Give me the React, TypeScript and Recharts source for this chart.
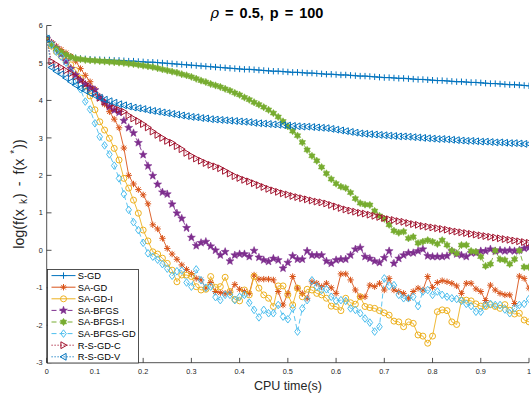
import React from 'react';
import { LineChart, Line, XAxis, YAxis, Legend, Customized } from 'recharts';

const T = [0,0.01,0.02,0.03,0.04,0.05,0.06,0.07,0.08,0.09,
0.1,0.11,0.12,0.13,0.14,0.15,0.16,0.17,0.18,0.19,
0.2,0.21,0.22,0.23,0.24,0.25,0.26,0.27,0.28,0.29,
0.3,0.31,0.32,0.33,0.34,0.35,0.36,0.37,0.38,0.39,
0.4,0.41,0.42,0.43,0.44,0.45,0.46,0.47,0.48,0.49,
0.5,0.51,0.52,0.53,0.54,0.55,0.56,0.57,0.58,0.59,
0.6,0.61,0.62,0.63,0.64,0.65,0.66,0.67,0.68,0.69,
0.7,0.71,0.72,0.73,0.74,0.75,0.76,0.77,0.78,0.79,
0.8,0.81,0.82,0.83,0.84,0.85,0.86,0.87,0.88,0.89,
0.9,0.91,0.92,0.93,0.94,0.95,0.96,0.97,0.98,0.99,
1.0];

const S_GD = [5.65,5.45,5.33,5.25,5.2,5.16,5.14,5.12,5.11,5.1,
5.09,5.09,5.08,5.08,5.07,5.07,5.06,5.05,5.05,5.04,
5.03,5.02,5.02,5.01,5.0,4.99,4.98,4.97,4.96,4.95,
4.94,4.93,4.92,4.91,4.9,4.89,4.88,4.87,4.86,4.85,
4.84,4.83,4.83,4.82,4.81,4.8,4.79,4.78,4.78,4.77,
4.76,4.75,4.75,4.74,4.73,4.73,4.72,4.71,4.7,4.7,
4.69,4.68,4.68,4.67,4.66,4.65,4.65,4.64,4.63,4.62,
4.61,4.61,4.6,4.59,4.59,4.58,4.57,4.56,4.56,4.55,
4.54,4.53,4.53,4.52,4.51,4.5,4.5,4.49,4.48,4.48,
4.47,4.46,4.45,4.45,4.44,4.43,4.42,4.42,4.41,4.4,
4.39];

const SA_GD = [5.65,5.55,5.45,5.36,5.27,5.18,5.05,4.85,4.67,4.5,
4.3,4.1,3.9,3.7,3.5,3.27,2.73,2.0,1.77,1.62,
1.48,1.24,0.68,0.57,0.32,0.05,-0.1,-0.24,-0.39,-0.51,
-0.62,-0.75,-0.79,-1.01,-0.86,-1.1,-1.13,-1.15,-1.13,-0.91,
-1.04,-1.1,-1.15,-0.66,-0.77,-0.77,-0.77,-0.79,-1.1,-1.46,
-1.15,-0.7,-1.01,-1.15,-1.28,-0.84,-0.88,-0.97,-0.88,-1.0,
-1.15,-0.63,-0.63,-0.79,-1.06,-1.24,-1.24,-0.93,-0.97,-0.88,
-1.06,-0.75,-1.06,-1.1,-1.15,-1.28,-1.1,-1.01,-1.06,-0.7,
-0.99,-0.86,-0.81,-0.84,-0.88,-0.95,-1.15,-0.88,-0.88,-1.03,
-1.1,-1.34,-0.93,-1.06,-1.15,-1.19,-1.19,-1.42,-0.69,-0.75,
-1.01];

const SA_GD_I = [5.65,5.45,5.3,5.18,5.06,4.95,4.8,4.6,4.38,4.12,
3.75,3.43,3.21,2.99,2.72,2.41,1.92,1.66,1.34,0.99,
0.54,0.25,-0.04,-0.1,-0.21,-0.35,-0.53,-0.84,-0.66,-0.66,
-0.7,-0.97,-1.06,-1.04,-0.7,-0.99,-0.97,-0.72,-1.1,-1.31,
-1.35,-1.06,-1.19,-0.7,-1.01,-1.19,-1.28,-1.5,-0.95,-0.95,
-1.19,-1.46,-1.01,-1.24,-1.04,-1.06,-1.15,-1.19,-1.28,-1.49,
-1.5,-1.61,-1.28,-1.4,-1.44,-1.24,-1.5,-1.53,-1.55,-1.61,
-1.67,-1.73,-1.89,-1.91,-2.04,-1.91,-1.95,-2.26,-2.29,-2.48,
-2.29,-1.64,-1.59,-1.61,-1.91,-1.98,-1.33,-1.33,-1.35,-1.43,
-1.49,-1.5,-1.45,-1.5,-1.55,-1.45,-1.6,-1.7,-1.68,-1.86,
-1.91];

const SA_BFGS = [5.65,5.53,5.4,5.24,5.05,4.85,4.68,4.54,4.43,4.35,
4.28,4.08,3.95,3.83,3.74,3.68,3.46,3.27,3.13,2.87,
2.55,2.25,1.99,1.76,1.55,1.5,1.23,0.99,0.85,0.6,
0.34,0.12,0.2,0.23,0.11,0.0,-0.13,-0.04,-0.29,-0.13,
-0.1,-0.1,-0.17,-0.01,-0.19,-0.26,-0.3,-0.22,-0.26,-0.48,
-0.33,-0.15,-0.24,-0.24,-0.02,-0.13,-0.13,-0.13,-0.29,-0.35,
-0.26,-0.24,-0.24,-0.13,0.03,0.07,-0.17,-0.22,-0.29,-0.33,
-0.2,-0.02,-0.35,-0.22,-0.13,-0.07,-0.07,-0.02,0.03,-0.15,
-0.17,-0.17,-0.17,-0.15,-0.02,-0.1,-0.13,-0.17,-0.07,-0.07,
-0.02,-0.02,0.03,-0.02,0.0,-0.02,0.0,-0.02,0.0,0.05,
0.07];

const SA_BFGS_I = [5.65,5.5,5.38,5.29,5.22,5.16,5.12,5.1,5.08,5.07,
5.06,5.05,5.04,5.03,5.02,5.01,5.0,4.98,4.97,4.95,
4.93,4.91,4.89,4.86,4.83,4.8,4.77,4.74,4.7,4.67,
4.63,4.58,4.53,4.49,4.44,4.4,4.36,4.31,4.26,4.2,
4.15,4.08,4.02,3.95,3.89,3.82,3.75,3.66,3.56,3.44,
3.31,3.18,3.06,2.88,2.68,2.52,2.39,2.22,2.05,1.9,
1.78,1.7,1.66,1.54,1.38,1.26,1.22,1.21,1.05,0.92,
0.84,0.68,0.52,0.47,0.5,0.32,0.36,0.19,0.23,0.27,
0.23,0.17,0.27,0.14,-0.01,-0.08,0.14,0.14,-0.02,-0.04,
-0.17,-0.42,-0.37,-0.01,-0.24,-0.26,-0.37,-0.24,-0.01,-0.45,
-0.45];

const SA_BFGS_GD = [5.65,5.48,5.3,5.17,5.01,4.78,4.52,4.3,3.97,3.76,
3.39,3.03,2.8,2.56,2.26,1.92,1.5,1.08,0.75,0.54,
0.2,-0.08,-0.17,-0.25,-0.37,-0.49,-0.68,-0.56,-0.54,-0.86,
-0.97,-0.51,-0.8,-1.0,-0.97,-1.25,-1.33,-1.19,-1.19,-1.33,
-1.24,-1.19,-1.4,-1.59,-1.79,-1.59,-1.68,-1.68,-1.46,-1.77,
-1.84,-1.55,-2.17,-1.55,-1.33,-0.8,-0.97,-1.06,-1.04,-1.24,
-1.35,-1.33,-1.35,-1.55,-1.59,-1.68,-1.82,-1.93,-2.17,-2.04,
-0.75,-0.95,-0.93,-1.19,-1.28,-1.28,-1.24,-1.49,-1.1,-1.06,
-1.19,-1.1,-1.19,-1.24,-1.28,-1.3,-1.35,-1.43,-1.49,-1.64,
-1.64,-1.46,-1.43,-1.46,-1.46,-1.58,-1.68,-1.55,-1.46,-1.43,
-1.3];

const R_S_GD_C = [5.65,5.04,4.96,4.88,4.8,4.72,4.63,4.54,4.44,4.33,
4.2,4.07,3.97,3.88,3.8,3.75,3.7,3.6,3.52,3.45,
3.37,3.28,3.17,3.08,3.0,2.92,2.87,2.78,2.7,2.6,
2.52,2.45,2.39,2.33,2.28,2.24,2.19,2.12,2.05,1.98,
1.93,1.88,1.84,1.79,1.74,1.69,1.64,1.6,1.56,1.52,
1.49,1.45,1.42,1.39,1.36,1.33,1.3,1.28,1.25,1.21,
1.17,1.13,1.09,1.06,1.03,1.0,0.98,0.95,0.92,0.89,
0.86,0.83,0.81,0.78,0.76,0.73,0.7,0.68,0.65,0.63,
0.61,0.59,0.57,0.55,0.52,0.5,0.48,0.46,0.44,0.42,
0.4,0.38,0.36,0.34,0.32,0.3,0.28,0.26,0.24,0.22,
0.2];

const R_S_GD_V = [5.65,4.88,4.78,4.7,4.6,4.5,4.41,4.33,4.26,4.19,
4.13,4.07,4.02,3.98,3.94,3.9,3.87,3.84,3.81,3.79,
3.77,3.74,3.72,3.7,3.68,3.66,3.64,3.62,3.6,3.58,
3.56,3.55,3.53,3.52,3.5,3.49,3.48,3.47,3.46,3.45,
3.44,3.43,3.42,3.4,3.39,3.38,3.37,3.36,3.35,3.34,
3.33,3.32,3.31,3.3,3.3,3.29,3.28,3.27,3.26,3.24,
3.22,3.2,3.18,3.16,3.14,3.12,3.11,3.1,3.09,3.08,
3.07,3.06,3.05,3.04,3.04,3.03,3.02,3.01,3.0,2.99,
2.98,2.97,2.97,2.96,2.95,2.94,2.93,2.92,2.92,2.91,
2.9,2.9,2.89,2.88,2.88,2.87,2.86,2.86,2.85,2.84,
2.84];

const X_TICKS = [0, 0.1, 0.2, 0.3, 0.4, 0.5, 0.6, 0.7, 0.8, 0.9, 1];
const Y_TICKS = [-3, -2, -1, 0, 1, 2, 3, 4, 5, 6];

const TITLE_SYMBOL = 'ρ';
const TITLE_REST = ' = 0.5, p = 100';
const X_LABEL = 'CPU time(s)';

type MarkerKind = 'plus' | 'asterisk' | 'circle' | 'pentagram' | 'hexagram' | 'diamond' | 'tright' | 'tleft';

const SERIES: { key: string; name: string; values: number[]; color: string; dash?: string; marker: MarkerKind }[] = [
  { key: 'sgd', name: 'S-GD', values: S_GD, color: '#0072BD', marker: 'plus' },
  { key: 'sagd', name: 'SA-GD', values: SA_GD, color: '#D95319', marker: 'asterisk' },
  { key: 'sagdi', name: 'SA-GD-I', values: SA_GD_I, color: '#EDB120', marker: 'circle' },
  { key: 'sabfgs', name: 'SA-BFGS', values: SA_BFGS, color: '#7E2F8E', dash: '5 3', marker: 'pentagram' },
  { key: 'sabfgsi', name: 'SA-BFGS-I', values: SA_BFGS_I, color: '#77AC30', dash: '5 3', marker: 'hexagram' },
  { key: 'sabfgsgd', name: 'SA-BFGS-GD', values: SA_BFGS_GD, color: '#4DBEEE', dash: '5 3', marker: 'diamond' },
  { key: 'rsgdc', name: 'R-S-GD-C', values: R_S_GD_C, color: '#A2142F', dash: '1.2 1.8', marker: 'tright' },
  { key: 'rsgdv', name: 'R-S-GD-V', values: R_S_GD_V, color: '#0072BD', dash: '1.2 1.8', marker: 'tleft' },
];

const data = T.map((t, i) => {
  const row: Record<string, number> = { t };
  SERIES.forEach((s) => { row[s.key] = s.values[i]; });
  return row;
});

const AXIS = '#262626';
const FONT = "'Liberation Sans', Arial, Helvetica, sans-serif";

function starPath(x: number, y: number, n: number, ro: number, ri: number) {
  let d = '';
  for (let k = 0; k < 2 * n; k++) {
    const r = k % 2 === 0 ? ro : ri;
    const a = -Math.PI / 2 + (k * Math.PI) / n;
    d += (k === 0 ? 'M' : 'L') + (x + r * Math.cos(a)).toFixed(2) + ',' + (y + r * Math.sin(a)).toFixed(2);
  }
  return d + 'Z';
}

function Marker({ kind, x, y, color }: { kind: MarkerKind; x: number; y: number; color: string }) {
  const r = 3.2;
  switch (kind) {
    case 'plus':
      return <path d={`M${x - r},${y}H${x + r}M${x},${y - r}V${y + r}`} stroke={color} strokeWidth={1} fill="none" />;
    case 'asterisk': {
      const a = r * 0.72;
      return (
        <path
          d={`M${x - r},${y}H${x + r}M${x},${y - r}V${y + r}M${x - a},${y - a}L${x + a},${y + a}M${x - a},${y + a}L${x + a},${y - a}`}
          stroke={color}
          strokeWidth={1}
          fill="none"
        />
      );
    }
    case 'circle':
      return <circle cx={x} cy={y} r={3} fill="none" stroke={color} strokeWidth={1} />;
    case 'pentagram':
      return <path d={starPath(x, y, 5, 4.2, 1.8)} fill={color} stroke={color} strokeWidth={0.5} />;
    case 'hexagram':
      return <path d={starPath(x, y, 6, 3.7, 2.2)} fill={color} stroke={color} strokeWidth={0.5} />;
    case 'diamond':
      return <path d={`M${x},${y - 3.8}L${x + 2.8},${y}L${x},${y + 3.8}L${x - 2.8},${y}Z`} fill="none" stroke={color} strokeWidth={1} />;
    case 'tright':
      return <path d={`M${x + 3.4},${y}L${x - 2.6},${y - 3.4}L${x - 2.6},${y + 3.4}Z`} fill="none" stroke={color} strokeWidth={1} />;
    case 'tleft':
      return <path d={`M${x - 3.4},${y}L${x + 2.6},${y - 3.4}L${x + 2.6},${y + 3.4}Z`} fill="none" stroke={color} strokeWidth={1} />;
  }
  return null;
}

const makeDot = (kind: MarkerKind, color: string) => (p: any) => {
  const { cx, cy, index } = p;
  if (cx == null || cy == null) return <g key={`d${index}`} />;
  return (
    <g key={`d${index}`}>
      <Marker kind={kind} x={cx} y={cy} color={color} />
    </g>
  );
};

const fmtX = (v: number) => String(Math.round(v * 10) / 10);

const BottomTick = (p: any) => {
  const { x, y, payload } = p;
  return (
    <g>
      <line x1={x} y1={y} x2={x} y2={y - 4.8} stroke={AXIS} strokeWidth={0.8} />
      <text x={x} y={y + 11} textAnchor="middle" fontSize={7.3} fill={AXIS} fontFamily={FONT}>
        {fmtX(payload.value)}
      </text>
    </g>
  );
};

const TopTick = (p: any) => {
  const { x, y } = p;
  return <line x1={x} y1={y} x2={x} y2={y + 4.8} stroke={AXIS} strokeWidth={0.8} />;
};

const LeftTick = (p: any) => {
  const { x, y, payload } = p;
  return (
    <g>
      <line x1={x} y1={y} x2={x + 4.8} y2={y} stroke={AXIS} strokeWidth={0.8} />
      <text x={x - 4} y={y + 2.6} textAnchor="end" fontSize={7.3} fill={AXIS} fontFamily={FONT}>
        {String(payload.value)}
      </text>
    </g>
  );
};

const RightTick = (p: any) => {
  const { x, y } = p;
  return <line x1={x} y1={y} x2={x - 4.8} y2={y} stroke={AXIS} strokeWidth={0.8} />;
};

const LegendBox = () => (
  <svg width={92} height={95} style={{ display: 'block', overflow: 'visible' }}>
    <rect x={0.5} y={0.5} width={91} height={93.5} fill="#fff" stroke={AXIS} strokeWidth={0.8} />
    {SERIES.map((s, i) => {
      const cy = 6.6 + i * 11.6;
      return (
        <g key={s.key}>
          <line x1={4.5} x2={28.5} y1={cy} y2={cy} stroke={s.color} strokeWidth={1} strokeDasharray={s.dash} />
          <Marker kind={s.marker} x={16.5} y={cy} color={s.color} />
          <text x={30.8} y={cy + 3.3} fontSize={9.3} fill="#000" fontFamily={FONT}>
            {s.name}
          </text>
        </g>
      );
    })}
  </svg>
);

const Labels = () => (
  <g fontFamily={FONT}>
    <text x={267} y={17.5} textAnchor="middle" fontSize={14.5} fontWeight="bold" fill="#000" style={{ wordSpacing: '2px' }}>
      <tspan fontStyle="italic" fontWeight="normal" fontFamily="'DejaVu Serif', serif">{TITLE_SYMBOL}</tspan>
      {TITLE_REST}
    </text>
    <text x={288} y={389.5} textAnchor="middle" fontSize={12.5} fill={AXIS}>
      {X_LABEL}
    </text>
    <text transform="translate(23.5,194) rotate(-90)" textAnchor="middle" fontSize={14.3} fill={AXIS} style={{ wordSpacing: '3px' }}>
      log(f(x
      <tspan dx={5} dy={3.5} fontSize={10}>k</tspan>
      <tspan dx={1} dy={-3.5}>) - f(x</tspan>
      <tspan dx={5} dy={-5.5} fontSize={10}>*</tspan>
      <tspan dx={1} dy={5.5}>))</tspan>
    </text>
  </g>
);

export default function App() {
  return (
    <div style={{ position: 'absolute', left: 0, top: 0, width: 531, height: 400, background: '#fff' }}>
      <LineChart width={531} height={400} data={data} margin={{ top: 25.5, right: 2, left: 0, bottom: 7.3 }}>
        <XAxis
          xAxisId="b"
          dataKey="t"
          type="number"
          domain={[0, 1]}
          ticks={X_TICKS}
          interval={0}
          height={30}
          tickSize={0}
          tickMargin={0}
          tickLine={false}
          axisLine={{ stroke: AXIS, strokeWidth: 0.8 }}
          tick={<BottomTick />}
          allowDataOverflow
        />
        <XAxis
          xAxisId="t"
          orientation="top"
          dataKey="t"
          type="number"
          domain={[0, 1]}
          ticks={X_TICKS}
          interval={0}
          height={0}
          tickSize={0}
          tickMargin={0}
          tickLine={false}
          axisLine={{ stroke: AXIS, strokeWidth: 0.8 }}
          tick={<TopTick />}
          allowDataOverflow
        />
        <YAxis
          yAxisId="l"
          type="number"
          domain={[-3, 6]}
          ticks={Y_TICKS}
          interval={0}
          width={46.7}
          tickSize={0}
          tickMargin={0}
          tickLine={false}
          axisLine={{ stroke: AXIS, strokeWidth: 0.8 }}
          tick={<LeftTick />}
          allowDataOverflow
        />
        <YAxis
          yAxisId="r"
          orientation="right"
          type="number"
          domain={[-3, 6]}
          ticks={Y_TICKS}
          interval={0}
          width={0}
          tickSize={0}
          tickMargin={0}
          tickLine={false}
          axisLine={{ stroke: AXIS, strokeWidth: 0.8 }}
          tick={<RightTick />}
          allowDataOverflow
        />
        {SERIES.map((s) => (
          <Line
            key={s.key}
            xAxisId="b"
            yAxisId="l"
            type="linear"
            dataKey={s.key}
            name={s.name}
            stroke={s.color}
            strokeWidth={0.9}
            strokeDasharray={s.dash}
            dot={makeDot(s.marker, s.color)}
            activeDot={false}
            isAnimationActive={false}
          />
        ))}
        <Customized component={Labels} />
        <Legend
          content={LegendBox}
          layout="horizontal"
          verticalAlign="middle"
          align="center"
          wrapperStyle={{ position: 'absolute', left: 46.7, top: 269, width: 92, height: 95 }}
        />
      </LineChart>
    </div>
  );
}
